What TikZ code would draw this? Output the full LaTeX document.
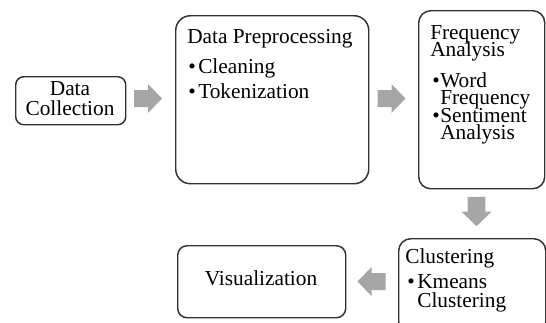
\documentclass[tikz,border=0pt]{standalone}
\usepackage{fontspec}
\setmainfont{Liberation Serif}
\begin{document}
\begin{tikzpicture}[x=0.75pt,y=-0.75pt,
  box/.style={draw=black!80, line width=1.1pt, anchor=north west, inner sep=0pt},
  txt/.style={anchor=base west, inner sep=0pt, font=\fontsize{16}{15}\selectfont},
  ctxt/.style={inner sep=0pt, align=center, font=\fontsize{16}{15}\selectfont},
  arrowfill/.style={fill=black!35},
  barrow/.pic={\fill[arrowfill] (-14,-8.5) -- (0,-8.5) -- (0,-14.5) -- (14,0) -- (0,14.5) -- (0,8.5) -- (-14,8.5) -- cycle;}
]
\useasboundingbox (0,0) rectangle (546,322);
% boxes
\node[box, rounded corners=6pt, minimum width=110*0.75pt, minimum height=48*0.75pt] (dc) at (15,76) {};
\node[box, rounded corners=11pt, minimum width=193*0.75pt, minimum height=168*0.75pt] (dp) at (175,15) {};
\node[box, rounded corners=9pt, minimum width=126*0.75pt, minimum height=178*0.75pt] (fa) at (418,10) {};
\node[box, rounded corners=9pt, minimum width=147*0.75pt, minimum height=95*0.75pt] (cl) at (398,238) {};
\node[box, rounded corners=7pt, minimum width=168*0.75pt, minimum height=72*0.75pt] (vz) at (177,245) {};
% texts
\node[ctxt] (dct) at (70,99) {Data\\Collection};
\node[txt] (dp1) at (187,43) {Data Preprocessing};
\node[txt] (dp2) at (188,73) {\makebox[7.5pt][l]{•}Cleaning};
\node[txt] (dp3) at (188,98) {\makebox[7.5pt][l]{•}Tokenization};
\node[txt] (fa1) at (430,39) {Frequency};
\node[txt] (fa2) at (430,56) {Analysis};
\node[txt] (fa3) at (432,87) {\makebox[6pt][l]{•}Word};
\node[txt] (fa4) at (440,104) {Frequency};
\node[txt] (fa5) at (432,122) {\makebox[6pt][l]{•}Sentiment};
\node[txt] (fa6) at (440,139) {Analysis};
\node[txt] (cl1) at (405,263) {Clustering};
\node[txt] (cl2) at (407,288) {\makebox[7.5pt][l]{•}Kmeans};
\node[txt] (cl3) at (417,307) {Clustering};
\node[ctxt, anchor=base] (vzt) at (261,285) {Visualization};
% block arrows
\pic at (148,98.5) {barrow};
\pic at (391.5,98.5) {barrow};
\pic[rotate=-90, scale=1.05] at (476.5,211.5) {barrow};
\pic[rotate=180] at (371.5,281.5) {barrow};
\end{tikzpicture}
\end{document}
